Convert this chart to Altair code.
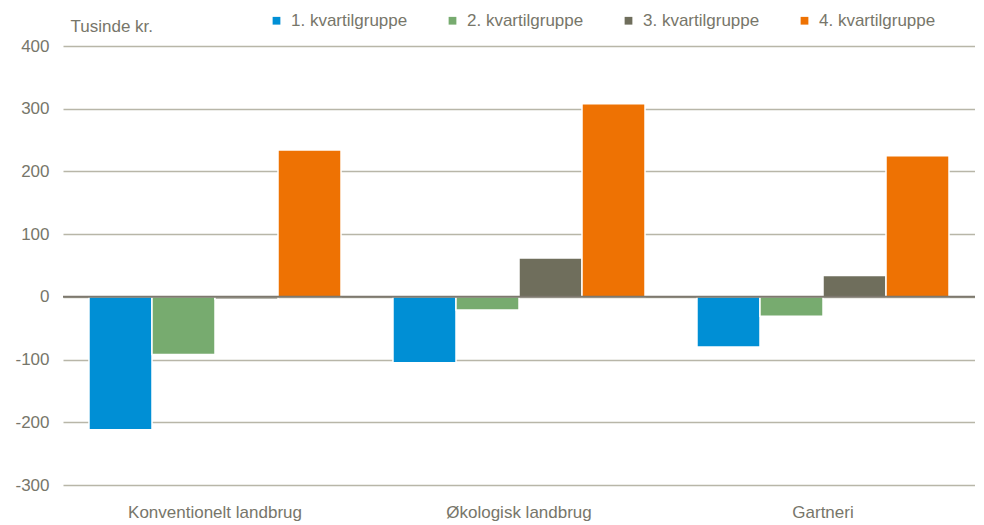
import altair as alt
import pandas as pd

categories = ["Konventionelt landbrug", "Økologisk landbrug", "Gartneri"]
groups = ["1. kvartilgruppe", "2. kvartilgruppe", "3. kvartilgruppe", "4. kvartilgruppe"]
colors = ["#008fd5", "#77ab6f", "#6f6e5c", "#ee7203"]
values = {
    "1. kvartilgruppe": [-212, -105, -80],
    "2. kvartilgruppe": [-92, -21, -31],
    "3. kvartilgruppe": [-4, 62, 34],
    "4. kvartilgruppe": [234, 308, 225],
}
y_ticks = [-300, -200, -100, 0, 100, 200, 300, 400]

rows = []
for g in groups:
    for c, v in zip(categories, values[g]):
        rows.append({"Kategori": c, "Gruppe": g, "Værdi": v})
df = pd.DataFrame(rows)

FONT = "Liberation Sans"
TXT = "#77766a"
FS = 17

bars = alt.Chart(df).mark_bar(stroke="white", strokeWidth=1.5).encode(
    x=alt.X("Kategori:N", sort=categories,
            scale=alt.Scale(paddingInner=0.171, paddingOuter=0.0855),
            axis=alt.Axis(title=None, labelAngle=0, domain=False, ticks=False, grid=False,
                          labelPadding=19, labelFontSize=FS, labelColor=TXT, labelFont=FONT)),
    xOffset=alt.XOffset("Gruppe:N", sort=groups, scale=alt.Scale(paddingInner=0, paddingOuter=0)),
    y=alt.Y("Værdi:Q", scale=alt.Scale(domain=[-300, 400], nice=False),
            axis=alt.Axis(values=y_ticks, title="Tusinde kr.", titleAngle=0, titleAlign="left",
                          titleBaseline="alphabetic", titleX=7, titleY=-15,
                          titleFont=FONT, titleFontSize=FS, titleFontWeight="normal", titleColor=TXT,
                          domain=False, ticks=False, labelPadding=14, labelFontSize=FS,
                          labelColor=TXT, labelFont=FONT,
                          labelExpr="datum.value < 0 ? '-' + abs(datum.value) : '' + datum.value",
                          grid=True, gridColor="#b8b6a8", gridWidth=1.5)),
    color=alt.Color("Gruppe:N", sort=groups, scale=alt.Scale(domain=groups, range=colors),
                    legend=alt.Legend(title=None, orient="none", direction="horizontal",
                                      legendX=205, legendY=-34, columns=4, columnPadding=36,
                                      symbolType="square", symbolSize=60, symbolStrokeWidth=0,
                                      labelFontSize=FS, labelColor=TXT, labelFont=FONT,
                                      labelOffset=6)),
)

zero = alt.Chart(pd.DataFrame({"y": [0]})).mark_rule(color="#7d786e", strokeWidth=2).encode(y="y:Q")

chart = alt.layer(bars, zero).properties(
    width=912, height=439,
    autosize=alt.AutoSizeParams(type="none"),
    padding={"left": 55, "top": 38, "right": 0, "bottom": 40},
    background="white",
).configure_view(stroke=None)

chart.save("out.html", embed_options={"renderer": "svg", "actions": False})
